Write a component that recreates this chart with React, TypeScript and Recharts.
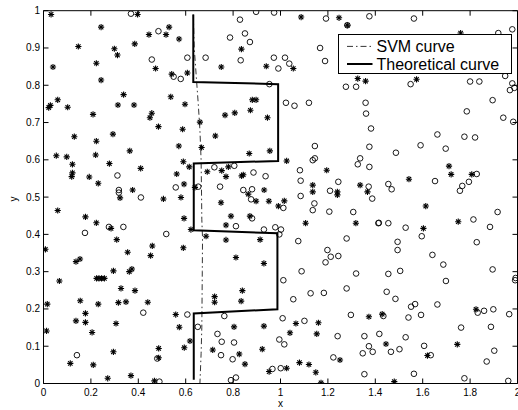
import React from "react";
import {
  ScatterChart,
  Scatter,
  XAxis,
  YAxis,
  ReferenceArea,
} from "recharts";

// tick labels
const xTicks = [0, 0.2, 0.4, 0.6, 0.8, 1, 1.2, 1.4, 1.6, 1.8, 2];
const yTicks = [0, 0.1, 0.2, 0.3, 0.4, 0.5, 0.6, 0.7, 0.8, 0.9, 1];

// class "*" samples
const starPts: [number, number][] = [
  [0.032, 0.99], [0.243, 0.956], [0.147, 0.904], [0.299, 0.898], [0.385, 0.911], [0.312, 0.881],
  [0.04, 0.849], [0.223, 0.859], [0.243, 0.814], [0.338, 0.775], [0.06, 0.761], [0.029, 0.746],
  [0.022, 0.74], [0.102, 0.741], [0.314, 0.747], [0.382, 0.747], [0.209, 0.722], [0.397, 0.99],
  [0.445, 0.936], [0.53, 0.956], [0.517, 0.936], [0.572, 0.924], [0.473, 0.845], [0.541, 0.83],
  [0.607, 0.833], [0.835, 0.897], [0.75, 0.849], [0.94, 0.851], [0.537, 0.769], [0.597, 0.749],
  [0.457, 0.725], [0.449, 0.713], [0.881, 0.761], [0.897, 0.761], [0.873, 0.733], [0.766, 0.72],
  [0.807, 0.726], [0.945, 0.713], [0.66, 0.701], [0.485, 0.689], [0.587, 0.682],
  [1.087, 0.983], [1.247, 0.981], [1.282, 0.961], [1.054, 0.845], [1.326, 0.818], [1.359, 0.811],
  [1.76, 0.94], [1.574, 0.816],
  [0.13, 0.662], [0.223, 0.65], [0.293, 0.669], [0.054, 0.611], [0.098, 0.608], [0.22, 0.613],
  [0.122, 0.588], [0.278, 0.59], [0.364, 0.624], [0.122, 0.565], [0.119, 0.555], [0.193, 0.554],
  [0.231, 0.537], [0.41, 0.577], [0.376, 0.519], [0.323, 0.498], [0.06, 0.464], [0.177, 0.447],
  [0.223, 0.431], [0.285, 0.416], [0.309, 0.386], [0.008, 0.36], [0.355, 0.352],
  [0.725, 0.664], [0.571, 0.637], [0.667, 0.633], [0.868, 0.617], [0.955, 0.624], [0.59, 0.595],
  [0.615, 0.581], [0.691, 0.568], [0.752, 0.571], [0.78, 0.581], [0.77, 0.555], [0.836, 0.557],
  [0.843, 0.56], [0.562, 0.562], [0.593, 0.535], [0.639, 0.526], [0.931, 0.519], [0.58, 0.499],
  [0.506, 0.495], [0.864, 0.508], [0.897, 0.489], [0.951, 0.489], [0.749, 0.485], [0.593, 0.443],
  [0.791, 0.449], [0.871, 0.449], [0.77, 0.425], [0.622, 0.413], [0.686, 0.395], [0.77, 0.385],
  [0.914, 0.386], [0.459, 0.369], [0.59, 0.364], [0.452, 0.343], [0.812, 0.338],
  [1.026, 0.597], [1.195, 0.572], [1.136, 0.532], [1.136, 0.514], [1.24, 0.514], [1.24, 0.506],
  [1.336, 0.532], [1.367, 0.514], [1.016, 0.49], [0.991, 0.476], [1.106, 0.43], [1.318, 0.43],
  [1.711, 0.583], [1.72, 0.561], [1.807, 0.561], [1.542, 0.548], [1.613, 0.476], [1.75, 0.434],
  [1.603, 0.416],
  [0.137, 0.327], [0.154, 0.334], [0.067, 0.275], [0.224, 0.282], [0.234, 0.282], [0.245, 0.282],
  [0.257, 0.282], [0.295, 0.302], [0.362, 0.3], [0.373, 0.307], [0.327, 0.255], [0.386, 0.249],
  [0.016, 0.213], [0.155, 0.222], [0.231, 0.213], [0.316, 0.217], [0.348, 0.219], [0.44, 0.218],
  [0.177, 0.188], [0.137, 0.168], [0.177, 0.164], [0.306, 0.161], [0.013, 0.141], [0.205, 0.137],
  [0.295, 0.085], [0.113, 0.054], [0.21, 0.05], [0.271, 0.014], [0.369, 0.021],
  [0.93, 0.322], [0.839, 0.249], [0.722, 0.233], [0.722, 0.218], [0.834, 0.221], [0.558, 0.185],
  [0.573, 0.151], [0.804, 0.152], [0.93, 0.154], [0.618, 0.114], [0.594, 0.096], [0.486, 0.094],
  [0.714, 0.09], [0.826, 0.079], [0.923, 0.092], [0.85, 0.052], [0.486, 0.069], [0.952, 0.032],
  [0.468, 0.007],
  [1.065, 0.161], [1.16, 0.163], [1.04, 0.136], [1.153, 0.133], [1.373, 0.179], [1.429, 0.186],
  [1.445, 0.106], [1.251, 0.063], [1.08, 0.056], [1.12, 0.051], [1.026, 0.041], [1.149, 0.03],
  [1.171, 0.002], [1.48, 0.005],
  [1.825, 0.199], [1.746, 0.105], [1.62, 0.075],
];

// class "o" samples
const circlePts: [number, number][] = [
  [0.369, 0.992],
  [0.485, 0.945], [0.457, 0.869], [0.607, 0.874], [0.684, 0.874], [0.549, 0.823], [0.579, 0.817],
  [0.897, 0.997], [0.829, 0.976], [0.787, 0.928], [0.85, 0.939], [0.871, 0.916], [0.832, 0.867],
  [0.972, 0.874], [0.953, 0.803],
  [0.973, 0.995], [1.192, 0.979], [1.375, 0.985], [1.282, 0.961], [1.167, 0.9], [1.019, 0.874],
  [0.991, 0.845], [1.037, 0.858], [1.188, 0.865], [1.276, 0.796], [1.319, 0.796], [1.023, 0.753],
  [1.059, 0.745], [1.12, 0.753], [1.359, 0.753], [1.361, 0.724], [1.382, 0.684],
  [1.563, 0.979], [1.919, 0.94], [1.978, 0.95], [1.549, 0.803], [1.8, 0.81], [1.839, 0.81],
  [1.948, 0.825], [1.978, 0.805], [1.968, 0.787], [1.987, 0.793], [1.895, 0.76], [1.786, 0.73],
  [1.94, 0.713], [1.982, 0.702],
  [0.312, 0.558], [0.318, 0.519], [0.318, 0.512], [0.411, 0.499], [0.175, 0.404], [0.276, 0.42],
  [0.337, 0.42],
  [0.721, 0.58], [0.805, 0.584], [0.886, 0.566], [0.937, 0.556], [0.558, 0.526], [0.653, 0.528],
  [0.745, 0.528], [0.843, 0.519], [0.88, 0.521], [0.876, 0.494], [0.88, 0.443], [0.812, 0.422],
  [0.93, 0.413], [0.518, 0.401],
  [1.145, 0.637], [1.375, 0.635], [1.487, 0.619], [1.136, 0.599], [1.145, 0.604], [1.336, 0.604],
  [1.326, 0.588], [1.375, 0.581], [1.082, 0.572], [1.085, 0.544], [1.244, 0.541], [1.209, 0.517],
  [1.372, 0.528], [1.455, 0.535], [1.469, 0.521], [1.085, 0.503], [1.387, 0.496], [1.143, 0.483],
  [1.136, 0.465], [1.206, 0.461], [1.307, 0.46], [1.012, 0.471], [0.978, 0.419], [1.002, 0.413],
  [0.995, 0.4], [1.413, 0.43], [1.415, 0.431], [1.455, 0.43], [1.279, 0.389], [1.075, 0.382],
  [1.494, 0.38], [1.494, 0.358], [1.198, 0.358], [1.212, 0.34], [1.244, 0.342],
  [1.662, 0.668], [1.776, 0.662], [1.821, 0.66], [1.591, 0.639], [1.697, 0.63], [1.652, 0.543],
  [1.828, 0.562], [1.795, 0.541], [1.767, 0.53], [1.757, 0.517], [1.916, 0.46], [1.814, 0.44],
  [1.884, 0.42], [1.528, 0.418], [1.596, 0.395], [1.828, 0.379], [1.641, 0.345],
  [0.421, 0.19], [0.141, 0.076],
  [0.607, 0.185], [0.763, 0.181], [0.651, 0.152], [0.734, 0.133], [0.752, 0.112], [0.804, 0.11],
  [0.749, 0.076], [0.798, 0.065], [0.48, 0.067], [0.966, 0.039], [0.812, 0.016], [0.791, 0.009],
  [0.489, 0.005],
  [1.19, 0.325], [1.089, 0.301], [1.319, 0.295], [1.455, 0.294], [1.505, 0.302], [1.012, 0.277],
  [1.279, 0.255], [1.127, 0.242], [1.183, 0.243], [1.054, 0.226], [1.448, 0.246], [1.485, 0.227],
  [1.297, 0.184], [1.434, 0.181], [1.009, 0.175], [1.101, 0.168], [1.241, 0.127], [1.354, 0.127],
  [1.417, 0.133], [0.995, 0.118], [1.016, 0.105], [1.373, 0.1], [1.389, 0.085], [1.347, 0.081],
  [1.466, 0.085], [1.502, 0.092], [1.223, 0.07], [1.001, 0.041], [1.354, 0.025],
  [1.687, 0.319], [1.895, 0.306], [1.698, 0.275], [1.992, 0.283], [1.99, 0.277], [1.551, 0.206],
  [1.568, 0.213], [1.662, 0.212], [1.593, 0.184], [1.54, 0.177], [1.832, 0.19], [1.859, 0.195],
  [1.898, 0.199], [1.965, 0.186], [1.762, 0.15], [1.888, 0.152], [1.528, 0.124], [1.606, 0.101],
  [1.634, 0.076], [1.902, 0.088], [1.87, 0.059], [1.563, 0.026], [1.776, 0.014], [1.961, 0.007],
];

// boundaries
const svmCurve: [number, number][] = [
  [0.632, 0.99], [0.636, 0.9], [0.645, 0.82], [0.653, 0.75], [0.66, 0.68], [0.665, 0.6],
  [0.667, 0.5], [0.668, 0.44], [0.671, 0.39], [0.67, 0.3], [0.668, 0.15], [0.665, 0.08], [0.66, 0.0],
];
const theoryCurve: [number, number][] = [
  [0.632, 0.99], [0.632, 0.809], [0.99, 0.803], [0.99, 0.597], [0.634, 0.59], [0.634, 0.411],
  [0.987, 0.403], [0.987, 0.199], [0.634, 0.188], [0.634, 0.01],
];

const toXY = (pts: [number, number][]) => pts.map(([x, y]) => ({ x, y }));

const W = 518;
const H = 410;
const LEFT = 43.5;
const TOP = 10.7;
const BOTTOM = 383.5;
const RIGHT = 517.5;
const FONT = "'Liberation Sans', Arial, Helvetica, sans-serif";

function StarShape(props: any) {
  const { cx, cy } = props;
  const r = 3.1;
  const d = 2.2;
  return (
    <g stroke="#000" strokeWidth={1.1}>
      <line x1={cx - r} y1={cy} x2={cx + r} y2={cy} />
      <line x1={cx} y1={cy - r} x2={cx} y2={cy + r} />
      <line x1={cx - d} y1={cy - d} x2={cx + d} y2={cy + d} />
      <line x1={cx - d} y1={cy + d} x2={cx + d} y2={cy - d} />
    </g>
  );
}

function CircleShape(props: any) {
  const { cx, cy } = props;
  return <circle cx={cx} cy={cy} r={2.8} fill="none" stroke="#000" strokeWidth={0.9} />;
}

const NoShape = () => <g />;

function XTick(props: any) {
  const { x, payload } = props;
  return (
    <g>
      <line x1={x} x2={x} y1={BOTTOM} y2={BOTTOM - 5} stroke="#000" />
      <line x1={x} x2={x} y1={TOP} y2={TOP + 5} stroke="#000" />
      <text x={x} y={BOTTOM + 12.5} textAnchor="middle" fontSize={10} fontFamily={FONT} fill="#000">
        {String(payload.value)}
      </text>
    </g>
  );
}

function YTick(props: any) {
  const { y, payload } = props;
  return (
    <g>
      <line x1={LEFT} x2={LEFT + 5} y1={y} y2={y} stroke="#000" />
      <line x1={RIGHT} x2={RIGHT - 5} y1={y} y2={y} stroke="#000" />
      <text x={LEFT - 3.5} y={y + 3.5} textAnchor="end" fontSize={10} fontFamily={FONT} fill="#000">
        {String(payload.value)}
      </text>
    </g>
  );
}

export default function App() {
  return (
    <div style={{ position: "absolute", left: 0, top: 0, width: W, height: H, background: "#fff" }}>
      <ScatterChart width={W} height={H} margin={{ top: TOP, right: 0.5, bottom: 0, left: 0 }}>
        <XAxis
          type="number"
          dataKey="x"
          domain={[0, 2]}
          ticks={xTicks}
          interval={0}
          height={26.5}
          axisLine={false}
          tickLine={false}
          tick={<XTick />}
          allowDataOverflow
          label={{
            content: () => (
              <text x={LEFT + 237} y={407} textAnchor="middle" fontSize={10} fontFamily={FONT}>
                x
              </text>
            ),
          }}
        />
        <YAxis
          type="number"
          dataKey="y"
          domain={[0, 1]}
          ticks={yTicks}
          interval={0}
          width={LEFT}
          axisLine={false}
          tickLine={false}
          tick={<YTick />}
          allowDataOverflow
          label={{
            content: () => (
              <text
                x={17}
                y={199}
                textAnchor="middle"
                fontSize={10}
                fontFamily={FONT}
                transform="rotate(-90 17 199)"
              >
                y
              </text>
            ),
          }}
        />
        <ReferenceArea x1={0} x2={2} y1={0} y2={1} fill="none" stroke="#000" strokeWidth={1} />
        <Scatter data={toXY(starPts)} shape={StarShape} isAnimationActive={false} />
        <Scatter data={toXY(circlePts)} shape={CircleShape} isAnimationActive={false} />
        <Scatter
          data={toXY(svmCurve)}
          shape={NoShape}
          line={{ stroke: "#000", strokeWidth: 0.8, strokeDasharray: "6 3 1.5 3" }}
          isAnimationActive={false}
        />
        <Scatter
          data={toXY(theoryCurve)}
          shape={NoShape}
          line={{ stroke: "#000", strokeWidth: 2 }}
          isAnimationActive={false}
        />
      </ScatterChart>
      <div
        style={{
          position: "absolute",
          left: 337.7,
          top: 34.3,
          width: 174.6,
          height: 39.7,
          boxSizing: "border-box",
          border: "1px solid #000",
          background: "#fff",
        }}
      >
        <svg width={173} height={38} style={{ display: "block" }}>
          <line x1={8} x2={33.5} y1={11.4} y2={11.4} stroke="#000" strokeWidth={0.8} strokeDasharray="6 3 1.5 3" />
          <line x1={8} x2={33.5} y1={29} y2={29} stroke="#000" strokeWidth={2} />
          <text x={37.5} y={17.2} fontSize={16} fontFamily={FONT} fill="#000">
            SVM curve
          </text>
          <text x={37.5} y={34.8} fontSize={16} fontFamily={FONT} fill="#000">
            Theoretical curve
          </text>
        </svg>
      </div>
    </div>
  );
}
